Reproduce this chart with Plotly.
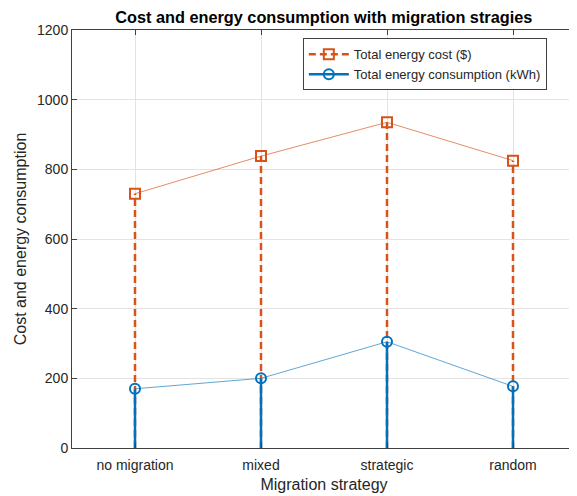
import plotly.graph_objects as go

# data
strategies = ["no migration", "mixed", "strategic", "random"]
energy_cost = [730, 838, 935, 825]          # Total energy cost ($)
energy_consumption = [170, 200, 305, 177]   # Total energy consumption (kWh)
y_ticks = [0, 200, 400, 600, 800, 1000, 1200]

ORANGE = "#D95319"
BLUE = "#0072BD"
AXIS = "#404040"
FONT = "Liberation Sans, Arial, sans-serif"


def stem_xy(cats, vals):
    """stem 선분 좌표 (0 -> 값) 를 만든다."""
    xs, ys = [], []
    for c, v in zip(cats, vals):
        xs += [c, c, None]
        ys += [0, v, None]
    return xs, ys


def add_stem_series(fig, cats, vals, name, color, thin_color, dash, symbol):
    sx, sy = stem_xy(cats, vals)
    fig.add_trace(go.Scatter(
        x=sx, y=sy, mode="lines", showlegend=False, hoverinfo="skip",
        line=dict(color=color, width=2.5, dash=dash),
    ))
    fig.add_trace(go.Scatter(
        x=cats, y=vals, mode="lines+markers", showlegend=False, name=name,
        line=dict(color=thin_color, width=0.9),
        marker=dict(symbol=symbol, size=10, color=color, line=dict(width=2, color=color)),
    ))
    # legend-only entry (stem style + marker)
    fig.add_trace(go.Scatter(
        x=[None], y=[None], mode="lines+markers", name=name,
        line=dict(color=color, width=2.5, dash=dash),
        marker=dict(symbol=symbol, size=10, color=color, line=dict(width=2, color=color)),
    ))


fig = go.Figure()
add_stem_series(fig, strategies, energy_cost, "Total energy cost ($)",
                ORANGE, "rgba(217,83,25,0.75)", "7px,4px", "square-open")
add_stem_series(fig, strategies, energy_consumption, "Total energy consumption (kWh)",
                BLUE, "rgba(0,114,189,0.7)", "solid", "circle-open")

# page body has an 8px margin, so the figure is sized to fit the window
fig.update_layout(
    width=569, height=488,
    margin=dict(l=64, r=1, t=22, b=48),
    paper_bgcolor="white", plot_bgcolor="white",
    font=dict(family=FONT, size=14, color="#262626"),
    title=dict(text="<b>Cost and energy consumption with migration stragies</b>",
               x=0.555, xanchor="center", y=0.982, yanchor="middle",
               font=dict(size=16.3, color="black")),
    legend=dict(x=0.458, y=0.98, xanchor="left", yanchor="top",
                bgcolor="white", bordercolor=AXIS, borderwidth=1,
                itemwidth=40,
                font=dict(size=13, color="#262626")),
)
fig.update_xaxes(
    type="category", categoryorder="array", categoryarray=strategies,
    range=[-0.5, 3.5], automargin=False,
    showline=True, linecolor=AXIS, linewidth=1, mirror="allticks",
    ticks="inside", ticklen=5, tickcolor=AXIS, ticklabelstandoff=4,
    showgrid=True, gridcolor="#e3e3e3", zeroline=False,
    title=dict(text="Migration strategy", font=dict(size=16), standoff=7),
)
fig.update_yaxes(
    range=[0, 1200], tickvals=y_ticks, automargin=False,
    showline=True, linecolor=AXIS, linewidth=1, mirror="allticks",
    ticks="inside", ticklen=5, tickcolor=AXIS,
    showgrid=True, gridcolor="#e3e3e3", zeroline=False,
    title=dict(text="Cost and energy consumption", font=dict(size=16), standoff=6),
)

fig.write_html("out.html")
